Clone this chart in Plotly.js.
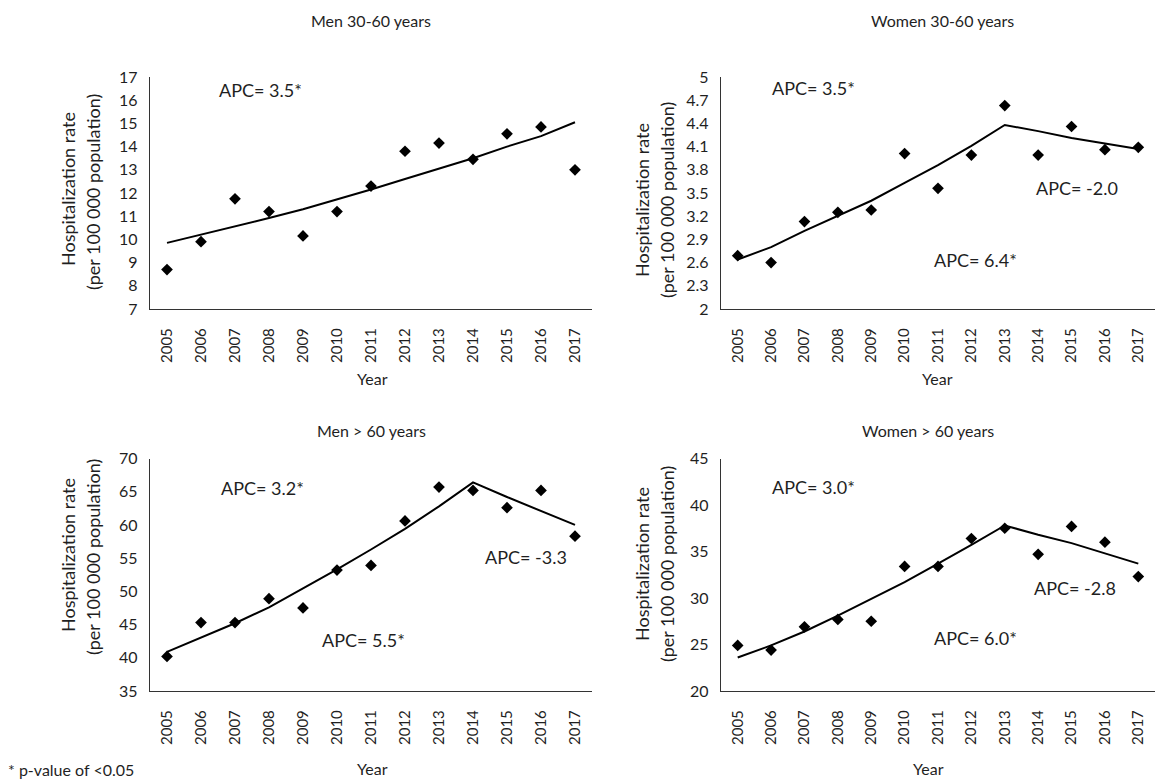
<!DOCTYPE html>
<html>
<head>
<meta charset="utf-8">
<script src="https://cdn.plot.ly/plotly-3.0.1.min.js"></script>
<style>html,body{margin:0;padding:0;background:#fff;}#chart{width:1167px;height:780px;}</style>
</head>
<body>
<div id="chart"></div>
<script>
// ---- data ----
const years = [2005, 2006, 2007, 2008, 2009, 2010, 2011, 2012, 2013, 2014, 2015, 2016, 2017];
const yearLabels = ["2005","2006","2007","2008","2009","2010","2011","2012","2013","2014","2015","2016","2017"];

const panelTitles = ["Men 30-60 years", "Women 30-60 years", "Men > 60 years", "Women > 60 years"];

// observed rates
const menYoungObs   = [8.7, 9.9, 11.75, 11.2, 10.15, 11.2, 12.3, 13.8, 14.15, 13.45, 14.55, 14.85, 13.0];
const womenYoungObs = [2.69, 2.60, 3.13, 3.25, 3.28, 4.01, 3.56, 3.99, 4.63, 3.99, 4.36, 4.06, 4.09];
const menOldObs     = [40.2, 45.3, 45.3, 48.9, 47.5, 53.2, 53.9, 60.6, 65.7, 65.2, 62.6, 65.2, 58.3];
const womenOldObs   = [24.9, 24.4, 26.9, 27.7, 27.5, 33.4, 33.4, 36.4, 37.5, 34.7, 37.7, 36.0, 32.3];

// joinpoint fitted trends
const menYoungFit   = [9.85, 10.2, 10.55, 10.92, 11.3, 11.72, 12.15, 12.6, 13.05, 13.5, 14.0, 14.45, 15.05];
const womenYoungFit = [2.64, 2.80, 3.01, 3.20, 3.40, 3.63, 3.86, 4.11, 4.38, 4.30, 4.21, 4.14, 4.07];
const menOldFit     = [40.9, 43.1, 45.2, 47.6, 50.4, 53.3, 56.3, 59.4, 62.8, 66.4, 64.2, 62.1, 60.0];
const womenOldFit   = [23.6, 24.9, 26.4, 28.1, 29.9, 31.7, 33.7, 35.7, 37.8, 36.8, 35.9, 34.8, 33.7];

// y axis ticks
const yTicksMenYoung   = [7, 8, 9, 10, 11, 12, 13, 14, 15, 16, 17];
const yTicksWomenYoung = [2, 2.3, 2.6, 2.9, 3.2, 3.5, 3.8, 4.1, 4.4, 4.7, 5];
const yTickTextWomenYoung = ["2","2.3","2.6","2.9","3.2","3.5","3.8","4.1","4.4","4.7","5"];
const yTicksMenOld     = [35, 40, 45, 50, 55, 60, 65, 70];
const yTicksWomenOld   = [20, 25, 30, 35, 40, 45];

// APC labels per panel
const apcMenYoung   = ["APC= 3.5*"];
const apcWomenYoung = ["APC= 3.5*", "APC= -2.0", "APC= 6.4*"];
const apcMenOld     = ["APC= 3.2*", "APC= -3.3", "APC= 5.5*"];
const apcWomenOld   = ["APC= 3.0*", "APC= -2.8", "APC= 6.0*"];

const yAxisTitleLines = ["Hospitalization rate", "(per 100 000 population)"];
const xAxisTitle = "Year";
const footnote = "* p-value of <0.05";

// ---- drawing ----
const FONT = "Lato, 'Open Sans', sans-serif";
const TXT = "#1f1f1f";
const W = 1167, H = 780;
const px = v => v / W;
const py = v => 1 - v / H;

function obsTrace(y, i) {
  return {x: years, y: y, type: "scatter", mode: "markers",
    xaxis: "x" + (i ? i + 1 : ""), yaxis: "y" + (i ? i + 1 : ""),
    marker: {symbol: "diamond", size: 9, color: "#000"}, hoverinfo: "skip", showlegend: false};
}
function fitTrace(y, i) {
  return {x: years, y: y, type: "scatter", mode: "lines",
    xaxis: "x" + (i ? i + 1 : ""), yaxis: "y" + (i ? i + 1 : ""),
    line: {color: "#000", width: 2}, hoverinfo: "skip", showlegend: false};
}

const data = [
  fitTrace(menYoungFit, 0), obsTrace(menYoungObs, 0),
  fitTrace(womenYoungFit, 1), obsTrace(womenYoungObs, 1),
  fitTrace(menOldFit, 2), obsTrace(menOldObs, 2),
  fitTrace(womenOldFit, 3), obsTrace(womenOldObs, 3)
];

const leftDom = [px(150), px(592)];
const rightDom = [px(721), px(1155)];
const topDom = [py(309), py(77)];
const botDom = [py(691), py(458.5)];

function xax(dom, anchor) {
  return {domain: dom, anchor: anchor, range: [2004.5, 2017.5],
    tickmode: "array", tickvals: years, ticktext: yearLabels, tickangle: -90,
    showline: true, linecolor: "#333", linewidth: 1.2, ticks: "", showgrid: false, zeroline: false,
    ticklabelstandoff: 12, tickfont: {family: FONT, size: 15, color: TXT}, fixedrange: true};
}
function yax(dom, anchor, range, vals, text) {
  const a = {domain: dom, anchor: anchor, range: range, tickmode: "array", tickvals: vals,
    showline: true, linecolor: "#333", linewidth: 1.2, ticks: "", showgrid: false, zeroline: false,
    ticklabelstandoff: 8, tickfont: {family: FONT, size: 16, color: TXT}, fixedrange: true};
  if (text) a.ticktext = text;
  return a;
}

function ann(text, x, y, size, extra) {
  return Object.assign({text: text, x: px(x), y: py(y), xref: "paper", yref: "paper",
    showarrow: false, xanchor: "center", yanchor: "middle",
    font: {family: FONT, size: size, color: TXT}}, extra || {});
}

const annotations = [
  ann(panelTitles[0], 371, 20, 16),
  ann(panelTitles[1], 942, 20, 16),
  ann(panelTitles[2], 371, 430, 16),
  ann(panelTitles[3], 928, 430, 16),
  ann(xAxisTitle, 372, 378, 16),
  ann(xAxisTitle, 937, 378, 16),
  ann(xAxisTitle, 372, 768, 16),
  ann(xAxisTitle, 928, 768, 16),
  ann(yAxisTitleLines[0], 68, 189, 18, {textangle: -90}),
  ann(yAxisTitleLines[1], 93, 192, 18, {textangle: -90}),
  ann(yAxisTitleLines[0], 642, 200, 18, {textangle: -90}),
  ann(yAxisTitleLines[1], 667, 200, 18, {textangle: -90}),
  ann(yAxisTitleLines[0], 68, 555, 18, {textangle: -90}),
  ann(yAxisTitleLines[1], 93, 557, 18, {textangle: -90}),
  ann(yAxisTitleLines[0], 642, 564, 18, {textangle: -90}),
  ann(yAxisTitleLines[1], 667, 564, 18, {textangle: -90}),
  ann(apcMenYoung[0], 260, 90, 18),
  ann(apcWomenYoung[0], 813, 88, 18),
  ann(apcWomenYoung[1], 1077, 188, 18),
  ann(apcWomenYoung[2], 975, 260, 18),
  ann(apcMenOld[0], 262, 488, 18),
  ann(apcMenOld[1], 526, 557, 18),
  ann(apcMenOld[2], 363, 640, 18),
  ann(apcWomenOld[0], 813, 487, 18),
  ann(apcWomenOld[1], 1075, 588, 18),
  ann(apcWomenOld[2], 975, 638, 18),
  ann(footnote, 6, 769, 16, {xanchor: "left"})
];

const layout = {
  width: W, height: H, margin: {l: 0, r: 0, t: 0, b: 0},
  paper_bgcolor: "#fff", plot_bgcolor: "#fff",
  font: {family: FONT, color: TXT},
  showlegend: false,
  xaxis: xax(leftDom, "y"),
  yaxis: yax(topDom, "x", [7, 17], yTicksMenYoung),
  xaxis2: xax(rightDom, "y2"),
  yaxis2: yax(topDom, "x2", [2, 5], yTicksWomenYoung, yTickTextWomenYoung),
  xaxis3: xax(leftDom, "y3"),
  yaxis3: yax(botDom, "x3", [35, 70], yTicksMenOld),
  xaxis4: xax(rightDom, "y4"),
  yaxis4: yax(botDom, "x4", [20, 45], yTicksWomenOld),
  annotations: annotations
};

Plotly.newPlot("chart", data, layout, {staticPlot: true, displayModeBar: false});
</script>
</body>
</html>
